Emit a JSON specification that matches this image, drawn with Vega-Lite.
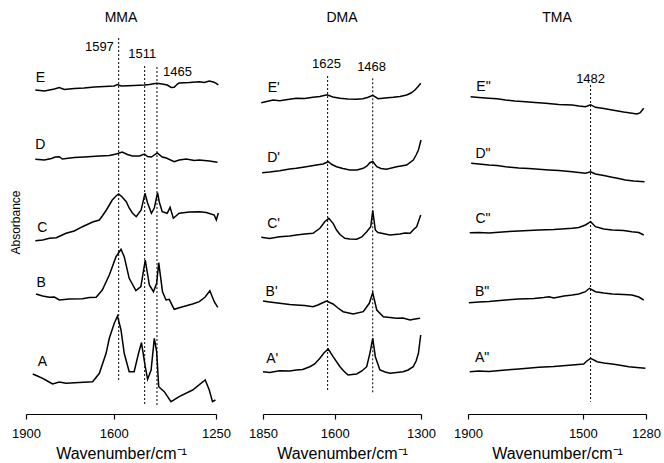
{
"$schema":"https://vega.github.io/schema/vega-lite/v6.json",
"background":"white",
"padding":{"left":9,"top":11,"right":0,"bottom":0},
"bounds":"flush",
"spacing":47,
"config":{"font":"Liberation Sans","view":{"stroke":null},
"axis":{"grid":false,"domainColor":"black","tickColor":"black","labelColor":"black","titleColor":"black","labelFontSize":13,"titleFontSize":16,"titleFontWeight":"normal","labelFlush":false,"tickSize":5,"domainWidth":1.2,"tickWidth":1.2,"labelPadding":3,"titlePadding":4},
"title":{"fontSize":14,"fontWeight":"normal","color":"black"}},
"datasets":{
"mma":[
{"s":"E","w":1868,"a":3.24},{"s":"E","w":1837,"a":3.23},{"s":"E","w":1803,"a":3.25},{"s":"E","w":1786,"a":3.265},{"s":"E","w":1769,"a":3.245},{"s":"E","w":1735,"a":3.255},{"s":"E","w":1701,"a":3.26},{"s":"E","w":1666,"a":3.27},{"s":"E","w":1632,"a":3.275},{"s":"E","w":1598,"a":3.28},{"s":"E","w":1588,"a":3.295},{"s":"E","w":1574,"a":3.28},{"s":"E","w":1530,"a":3.285},{"s":"E","w":1495,"a":3.29},{"s":"E","w":1478,"a":3.295},{"s":"E","w":1453,"a":3.307},{"s":"E","w":1434,"a":3.3},{"s":"E","w":1417,"a":3.29},{"s":"E","w":1403,"a":3.265},{"s":"E","w":1393,"a":3.267},{"s":"E","w":1382,"a":3.3},{"s":"E","w":1376,"a":3.31},{"s":"E","w":1341,"a":3.315},{"s":"E","w":1307,"a":3.323},{"s":"E","w":1290,"a":3.315},{"s":"E","w":1273,"a":3.33},{"s":"E","w":1259,"a":3.32},{"s":"E","w":1249,"a":3.307},{"s":"E","w":1242,"a":3.29},
{"s":"D","w":1868,"a":2.547},{"s":"D","w":1837,"a":2.54},{"s":"D","w":1813,"a":2.555},{"s":"D","w":1800,"a":2.57},{"s":"D","w":1786,"a":2.573},{"s":"D","w":1776,"a":2.55},{"s":"D","w":1735,"a":2.565},{"s":"D","w":1701,"a":2.57},{"s":"D","w":1649,"a":2.58},{"s":"D","w":1615,"a":2.585},{"s":"D","w":1591,"a":2.6},{"s":"D","w":1571,"a":2.62},{"s":"D","w":1553,"a":2.595},{"s":"D","w":1536,"a":2.58},{"s":"D","w":1512,"a":2.58},{"s":"D","w":1495,"a":2.6},{"s":"D","w":1484,"a":2.575},{"s":"D","w":1471,"a":2.57},{"s":"D","w":1451,"a":2.61},{"s":"D","w":1434,"a":2.57},{"s":"D","w":1420,"a":2.56},{"s":"D","w":1393,"a":2.523},{"s":"D","w":1376,"a":2.54},{"s":"D","w":1352,"a":2.55},{"s":"D","w":1324,"a":2.535},{"s":"D","w":1307,"a":2.54},{"s":"D","w":1273,"a":2.53},{"s":"D","w":1245,"a":2.517},
{"s":"C","w":1868,"a":1.733},{"s":"C","w":1843,"a":1.74},{"s":"C","w":1820,"a":1.757},{"s":"C","w":1796,"a":1.763},{"s":"C","w":1763,"a":1.807},{"s":"C","w":1735,"a":1.83},{"s":"C","w":1707,"a":1.873},{"s":"C","w":1672,"a":1.92},{"s":"C","w":1649,"a":1.94},{"s":"C","w":1639,"a":1.98},{"s":"C","w":1625,"a":2.04},{"s":"C","w":1605,"a":2.14},{"s":"C","w":1592,"a":2.18},{"s":"C","w":1583,"a":2.2},{"s":"C","w":1571,"a":2.17},{"s":"C","w":1557,"a":2.123},{"s":"C","w":1547,"a":2.06},{"s":"C","w":1536,"a":2.01},{"s":"C","w":1523,"a":1.973},{"s":"C","w":1506,"a":2.04},{"s":"C","w":1493,"a":2.207},{"s":"C","w":1484,"a":2.11},{"s":"C","w":1471,"a":2.007},{"s":"C","w":1461,"a":2.06},{"s":"C","w":1450,"a":2.213},{"s":"C","w":1444,"a":2.12},{"s":"C","w":1434,"a":2.023},{"s":"C","w":1417,"a":2.007},{"s":"C","w":1407,"a":2.067},{"s":"C","w":1396,"a":1.957},{"s":"C","w":1376,"a":2.007},{"s":"C","w":1341,"a":2.02},{"s":"C","w":1307,"a":2.023},{"s":"C","w":1283,"a":2.015},{"s":"C","w":1256,"a":1.99},{"s":"C","w":1249,"a":1.94},{"s":"C","w":1242,"a":2.01},
{"s":"B","w":1866,"a":1.2},{"s":"B","w":1843,"a":1.18},{"s":"B","w":1820,"a":1.167},{"s":"B","w":1803,"a":1.17},{"s":"B","w":1786,"a":1.14},{"s":"B","w":1752,"a":1.15},{"s":"B","w":1707,"a":1.153},{"s":"B","w":1683,"a":1.165},{"s":"B","w":1660,"a":1.167},{"s":"B","w":1639,"a":1.24},{"s":"B","w":1615,"a":1.39},{"s":"B","w":1592,"a":1.573},{"s":"B","w":1575,"a":1.647},{"s":"B","w":1564,"a":1.573},{"s":"B","w":1547,"a":1.357},{"s":"B","w":1524,"a":1.233},{"s":"B","w":1507,"a":1.273},{"s":"B","w":1492,"a":1.54},{"s":"B","w":1478,"a":1.29},{"s":"B","w":1464,"a":1.223},{"s":"B","w":1453,"a":1.307},{"s":"B","w":1446,"a":1.513},{"s":"B","w":1433,"a":1.223},{"s":"B","w":1421,"a":1.14},{"s":"B","w":1410,"a":1.147},{"s":"B","w":1393,"a":1.047},{"s":"B","w":1364,"a":1.073},{"s":"B","w":1330,"a":1.1},{"s":"B","w":1307,"a":1.123},{"s":"B","w":1287,"a":1.17},{"s":"B","w":1271,"a":1.233},{"s":"B","w":1256,"a":1.123},{"s":"B","w":1244,"a":1.067},
{"s":"A","w":1877,"a":0.4},{"s":"A","w":1861,"a":0.38},{"s":"A","w":1843,"a":0.357},{"s":"A","w":1827,"a":0.33},{"s":"A","w":1809,"a":0.3},{"s":"A","w":1786,"a":0.32},{"s":"A","w":1763,"a":0.307},{"s":"A","w":1718,"a":0.315},{"s":"A","w":1672,"a":0.323},{"s":"A","w":1649,"a":0.407},{"s":"A","w":1626,"a":0.607},{"s":"A","w":1615,"a":0.757},{"s":"A","w":1598,"a":0.907},{"s":"A","w":1587,"a":0.98},{"s":"A","w":1575,"a":0.84},{"s":"A","w":1564,"a":0.607},{"s":"A","w":1547,"a":0.423},{"s":"A","w":1530,"a":0.423},{"s":"A","w":1515,"a":0.607},{"s":"A","w":1505,"a":0.713},{"s":"A","w":1492,"a":0.473},{"s":"A","w":1484,"a":0.347},{"s":"A","w":1472,"a":0.44},{"s":"A","w":1461,"a":0.757},{"s":"A","w":1453,"a":0.623},{"s":"A","w":1446,"a":0.273},{"s":"A","w":1427,"a":0.223},{"s":"A","w":1404,"a":0.123},{"s":"A","w":1376,"a":0.173},{"s":"A","w":1330,"a":0.24},{"s":"A","w":1287,"a":0.34},{"s":"A","w":1273,"a":0.24},{"s":"A","w":1262,"a":0.123},{"s":"A","w":1252,"a":0.14}
],
"mmaLab":[{"s":"E","w":1851,"a":3.365},{"s":"D","w":1851,"a":2.69},{"s":"C","w":1844,"a":1.86},{"s":"B","w":1848,"a":1.31},{"s":"A","w":1844,"a":0.52}],
"mmaPk":[{"w":1583,"a1":3.76,"a2":0.323,"label":"1597","lw":1649,"la":3.673},{"w":1494,"a1":3.48,"a2":0.09,"label":"1511","lw":1502,"la":3.6},{"w":1452,"a1":3.47,"a2":0.09,"label":"1465","lw":1382,"la":3.423}],
"dma":[
{"s":"E'","w":1856,"a":3.113},{"s":"E'","w":1815,"a":3.14},{"s":"E'","w":1792,"a":3.133},{"s":"E'","w":1764,"a":3.145},{"s":"E'","w":1734,"a":3.157},{"s":"E'","w":1705,"a":3.155},{"s":"E'","w":1676,"a":3.167},{"s":"E'","w":1652,"a":3.175},{"s":"E'","w":1627,"a":3.193},{"s":"E'","w":1607,"a":3.17},{"s":"E'","w":1582,"a":3.157},{"s":"E'","w":1555,"a":3.15},{"s":"E'","w":1524,"a":3.147},{"s":"E'","w":1502,"a":3.153},{"s":"E'","w":1484,"a":3.167},{"s":"E'","w":1468,"a":3.187},{"s":"E'","w":1449,"a":3.153},{"s":"E'","w":1425,"a":3.16},{"s":"E'","w":1397,"a":3.167},{"s":"E'","w":1373,"a":3.175},{"s":"E'","w":1350,"a":3.19},{"s":"E'","w":1335,"a":3.21},{"s":"E'","w":1321,"a":3.24},{"s":"E'","w":1310,"a":3.275},{"s":"E'","w":1301,"a":3.307},
{"s":"D'","w":1853,"a":2.413},{"s":"D'","w":1827,"a":2.42},{"s":"D'","w":1792,"a":2.433},{"s":"D'","w":1757,"a":2.45},{"s":"D'","w":1734,"a":2.457},{"s":"D'","w":1705,"a":2.47},{"s":"D'","w":1664,"a":2.49},{"s":"D'","w":1641,"a":2.5},{"s":"D'","w":1623,"a":2.523},{"s":"D'","w":1610,"a":2.495},{"s":"D'","w":1594,"a":2.473},{"s":"D'","w":1572,"a":2.455},{"s":"D'","w":1548,"a":2.44},{"s":"D'","w":1523,"a":2.44},{"s":"D'","w":1501,"a":2.457},{"s":"D'","w":1488,"a":2.48},{"s":"D'","w":1478,"a":2.513},{"s":"D'","w":1468,"a":2.525},{"s":"D'","w":1454,"a":2.473},{"s":"D'","w":1439,"a":2.455},{"s":"D'","w":1420,"a":2.447},{"s":"D'","w":1385,"a":2.473},{"s":"D'","w":1350,"a":2.49},{"s":"D'","w":1327,"a":2.54},{"s":"D'","w":1317,"a":2.59},{"s":"D'","w":1309,"a":2.64},{"s":"D'","w":1300,"a":2.74},
{"s":"C'","w":1856,"a":1.767},{"s":"C'","w":1827,"a":1.755},{"s":"C'","w":1792,"a":1.773},{"s":"C'","w":1757,"a":1.78},{"s":"C'","w":1734,"a":1.79},{"s":"C'","w":1705,"a":1.8},{"s":"C'","w":1676,"a":1.807},{"s":"C'","w":1652,"a":1.857},{"s":"C'","w":1635,"a":1.923},{"s":"C'","w":1621,"a":1.957},{"s":"C'","w":1606,"a":1.907},{"s":"C'","w":1594,"a":1.84},{"s":"C'","w":1582,"a":1.795},{"s":"C'","w":1565,"a":1.757},{"s":"C'","w":1548,"a":1.75},{"s":"C'","w":1524,"a":1.747},{"s":"C'","w":1506,"a":1.77},{"s":"C'","w":1489,"a":1.823},{"s":"C'","w":1475,"a":1.873},{"s":"C'","w":1468,"a":2.033},{"s":"C'","w":1459,"a":1.84},{"s":"C'","w":1450,"a":1.815},{"s":"C'","w":1437,"a":1.807},{"s":"C'","w":1408,"a":1.79},{"s":"C'","w":1373,"a":1.8},{"s":"C'","w":1356,"a":1.81},{"s":"C'","w":1338,"a":1.807},{"s":"C'","w":1324,"a":1.85},{"s":"C'","w":1315,"a":1.873},{"s":"C'","w":1307,"a":1.94},{"s":"C'","w":1301,"a":1.99},
{"s":"B'","w":1850,"a":1.13},{"s":"B'","w":1827,"a":1.12},{"s":"B'","w":1792,"a":1.107},{"s":"B'","w":1757,"a":1.095},{"s":"B'","w":1734,"a":1.09},{"s":"B'","w":1705,"a":1.085},{"s":"B'","w":1676,"a":1.073},{"s":"B'","w":1659,"a":1.09},{"s":"B'","w":1646,"a":1.107},{"s":"B'","w":1629,"a":1.13},{"s":"B'","w":1606,"a":1.1},{"s":"B'","w":1589,"a":1.06},{"s":"B'","w":1571,"a":1.023},{"s":"B'","w":1536,"a":1},{"s":"B'","w":1501,"a":1.023},{"s":"B'","w":1480,"a":1.107},{"s":"B'","w":1468,"a":1.213},{"s":"B'","w":1454,"a":1.04},{"s":"B'","w":1431,"a":0.973},{"s":"B'","w":1408,"a":0.965},{"s":"B'","w":1385,"a":0.957},{"s":"B'","w":1363,"a":0.96},{"s":"B'","w":1338,"a":0.94},{"s":"B'","w":1321,"a":0.95},{"s":"B'","w":1303,"a":0.957},
{"s":"A'","w":1850,"a":0.423},{"s":"A'","w":1827,"a":0.415},{"s":"A'","w":1792,"a":0.433},{"s":"A'","w":1757,"a":0.43},{"s":"A'","w":1734,"a":0.44},{"s":"A'","w":1712,"a":0.445},{"s":"A'","w":1687,"a":0.473},{"s":"A'","w":1670,"a":0.5},{"s":"A'","w":1652,"a":0.557},{"s":"A'","w":1638,"a":0.61},{"s":"A'","w":1623,"a":0.65},{"s":"A'","w":1606,"a":0.573},{"s":"A'","w":1582,"a":0.473},{"s":"A'","w":1569,"a":0.43},{"s":"A'","w":1554,"a":0.39},{"s":"A'","w":1524,"a":0.4},{"s":"A'","w":1506,"a":0.43},{"s":"A'","w":1489,"a":0.473},{"s":"A'","w":1478,"a":0.607},{"s":"A'","w":1468,"a":0.757},{"s":"A'","w":1459,"a":0.573},{"s":"A'","w":1443,"a":0.44},{"s":"A'","w":1425,"a":0.42},{"s":"A'","w":1408,"a":0.407},{"s":"A'","w":1385,"a":0.415},{"s":"A'","w":1362,"a":0.423},{"s":"A'","w":1345,"a":0.44},{"s":"A'","w":1327,"a":0.473},{"s":"A'","w":1317,"a":0.53},{"s":"A'","w":1309,"a":0.607},{"s":"A'","w":1301,"a":0.79}
],
"dmaLab":[{"s":"E'","w":1813,"a":3.263},{"s":"D'","w":1813,"a":2.56},{"s":"C'","w":1813,"a":1.9},{"s":"B'","w":1820,"a":1.22},{"s":"A'","w":1818,"a":0.55}],
"dmaPk":[{"w":1625,"a1":3.38,"a2":0.223,"label":"1625","lw":1629,"la":3.5},{"w":1468,"a1":3.357,"a2":0.207,"label":"1468","lw":1472,"la":3.467}],
"tma":[
{"s":"E\"","w":1891,"a":3.173},{"s":"E\"","w":1862,"a":3.165},{"s":"E\"","w":1827,"a":3.157},{"s":"E\"","w":1799,"a":3.152},{"s":"E\"","w":1769,"a":3.14},{"s":"E\"","w":1737,"a":3.13},{"s":"E\"","w":1699,"a":3.123},{"s":"E\"","w":1667,"a":3.115},{"s":"E\"","w":1630,"a":3.107},{"s":"E\"","w":1584,"a":3.095},{"s":"E\"","w":1537,"a":3.09},{"s":"E\"","w":1514,"a":3.08},{"s":"E\"","w":1491,"a":3.073},{"s":"E\"","w":1473,"a":3.093},{"s":"E\"","w":1456,"a":3.067},{"s":"E\"","w":1427,"a":3.055},{"s":"E\"","w":1398,"a":3.04},{"s":"E\"","w":1358,"a":3.02},{"s":"E\"","w":1311,"a":3},{"s":"E\"","w":1300,"a":3.013},{"s":"E\"","w":1288,"a":3.057},
{"s":"D\"","w":1889,"a":2.507},{"s":"D\"","w":1862,"a":2.5},{"s":"D\"","w":1827,"a":2.49},{"s":"D\"","w":1799,"a":2.485},{"s":"D\"","w":1769,"a":2.473},{"s":"D\"","w":1723,"a":2.46},{"s":"D\"","w":1688,"a":2.455},{"s":"D\"","w":1653,"a":2.447},{"s":"D\"","w":1618,"a":2.44},{"s":"D\"","w":1584,"a":2.435},{"s":"D\"","w":1537,"a":2.423},{"s":"D\"","w":1514,"a":2.415},{"s":"D\"","w":1491,"a":2.407},{"s":"D\"","w":1473,"a":2.423},{"s":"D\"","w":1456,"a":2.4},{"s":"D\"","w":1427,"a":2.385},{"s":"D\"","w":1398,"a":2.367},{"s":"D\"","w":1375,"a":2.355},{"s":"D\"","w":1352,"a":2.34},{"s":"D\"","w":1323,"a":2.33},{"s":"D\"","w":1285,"a":2.323},
{"s":"C\"","w":1894,"a":1.813},{"s":"C\"","w":1862,"a":1.815},{"s":"C\"","w":1827,"a":1.81},{"s":"C\"","w":1769,"a":1.823},{"s":"C\"","w":1723,"a":1.83},{"s":"C\"","w":1653,"a":1.84},{"s":"C\"","w":1601,"a":1.845},{"s":"C\"","w":1537,"a":1.857},{"s":"C\"","w":1514,"a":1.865},{"s":"C\"","w":1491,"a":1.89},{"s":"C\"","w":1473,"a":1.923},{"s":"C\"","w":1456,"a":1.873},{"s":"C\"","w":1427,"a":1.85},{"s":"C\"","w":1398,"a":1.84},{"s":"C\"","w":1358,"a":1.835},{"s":"C\"","w":1329,"a":1.823},{"s":"C\"","w":1305,"a":1.815},{"s":"C\"","w":1288,"a":1.79},
{"s":"B\"","w":1897,"a":1.113},{"s":"B\"","w":1862,"a":1.12},{"s":"B\"","w":1827,"a":1.125},{"s":"B\"","w":1769,"a":1.14},{"s":"B\"","w":1723,"a":1.15},{"s":"B\"","w":1670,"a":1.155},{"s":"B\"","w":1636,"a":1.165},{"s":"B\"","w":1618,"a":1.173},{"s":"B\"","w":1601,"a":1.16},{"s":"B\"","w":1566,"a":1.18},{"s":"B\"","w":1537,"a":1.19},{"s":"B\"","w":1514,"a":1.2},{"s":"B\"","w":1491,"a":1.223},{"s":"B\"","w":1477,"a":1.257},{"s":"B\"","w":1456,"a":1.223},{"s":"B\"","w":1427,"a":1.21},{"s":"B\"","w":1398,"a":1.2},{"s":"B\"","w":1358,"a":1.195},{"s":"B\"","w":1329,"a":1.19},{"s":"B\"","w":1305,"a":1.17},{"s":"B\"","w":1288,"a":1.14},
{"s":"A\"","w":1894,"a":0.423},{"s":"A\"","w":1862,"a":0.43},{"s":"A\"","w":1827,"a":0.425},{"s":"A\"","w":1769,"a":0.44},{"s":"A\"","w":1723,"a":0.45},{"s":"A\"","w":1653,"a":0.467},{"s":"A\"","w":1601,"a":0.475},{"s":"A\"","w":1537,"a":0.49},{"s":"A\"","w":1497,"a":0.5},{"s":"A\"","w":1486,"a":0.53},{"s":"A\"","w":1473,"a":0.557},{"s":"A\"","w":1450,"a":0.523},{"s":"A\"","w":1427,"a":0.51},{"s":"A\"","w":1398,"a":0.5},{"s":"A\"","w":1375,"a":0.49},{"s":"A\"","w":1340,"a":0.473},{"s":"A\"","w":1312,"a":0.465},{"s":"A\"","w":1282,"a":0.457}
],
"tmaLab":[{"s":"E\"","w":1846,"a":3.273},{"s":"D\"","w":1848,"a":2.6},{"s":"C\"","w":1848,"a":1.95},{"s":"B\"","w":1851,"a":1.22},{"s":"A\"","w":1851,"a":0.56}],
"tmaPk":[{"w":1473,"a1":3.29,"a2":0.123,"label":"1482","lw":1473,"la":3.35}]
},
"hconcat":[
{"width":190,"height":384,"title":{"text":"MMA","offset":5},
"layer":[
{"data":{"name":"mma"},"mark":{"type":"line","color":"black","strokeWidth":1.5},"encoding":{"x":{"field":"w","type":"quantitative","scale":{"domain":[1900,1250],"nice":false,"zero":false},"axis":{"values":[1900,1600,1250],"format":"d","title":"Wavenumber/cm⁻¹","labelPadding":8,"titlePadding":5}},"y":{"field":"a","type":"quantitative","scale":{"domain":[0,3.84],"nice":false},"axis":{"title":"Absorbance","labels":false,"ticks":false,"domain":false,"titleFontSize":12,"titlePadding":4}},"detail":{"field":"s"}}},
{"data":{"name":"mmaPk"},"mark":{"type":"rule","color":"black","strokeDash":[2,2],"strokeWidth":1},"encoding":{"x":{"field":"w","type":"quantitative"},"y":{"field":"a1","type":"quantitative"},"y2":{"field":"a2"}}},
{"data":{"name":"mmaPk"},"mark":{"type":"text","fontSize":13,"color":"black"},"encoding":{"x":{"field":"lw","type":"quantitative"},"y":{"field":"la","type":"quantitative"},"text":{"field":"label"}}},
{"data":{"name":"mmaLab"},"mark":{"type":"text","fontSize":14,"color":"black"},"encoding":{"x":{"field":"w","type":"quantitative"},"y":{"field":"a","type":"quantitative"},"text":{"field":"s"}}}
]},
{"width":158,"height":384,"title":{"text":"DMA","offset":5},
"layer":[
{"data":{"name":"dma"},"mark":{"type":"line","color":"black","strokeWidth":1.5},"encoding":{"x":{"field":"w","type":"quantitative","scale":{"domain":[1850,1300],"nice":false,"zero":false},"axis":{"values":[1850,1600,1300],"format":"d","title":"Wavenumber/cm⁻¹","labelPadding":8,"titlePadding":5}},"y":{"field":"a","type":"quantitative","scale":{"domain":[0,3.84],"nice":false},"axis":null},"detail":{"field":"s"}}},
{"data":{"name":"dmaPk"},"mark":{"type":"rule","color":"black","strokeDash":[2,2],"strokeWidth":1},"encoding":{"x":{"field":"w","type":"quantitative"},"y":{"field":"a1","type":"quantitative"},"y2":{"field":"a2"}}},
{"data":{"name":"dmaPk"},"mark":{"type":"text","fontSize":13,"color":"black"},"encoding":{"x":{"field":"lw","type":"quantitative"},"y":{"field":"la","type":"quantitative"},"text":{"field":"label"}}},
{"data":{"name":"dmaLab"},"mark":{"type":"text","fontSize":14,"color":"black"},"encoding":{"x":{"field":"w","type":"quantitative"},"y":{"field":"a","type":"quantitative"},"text":{"field":"s"}}}
]},
{"width":178,"height":384,"title":{"text":"TMA","offset":5},
"layer":[
{"data":{"name":"tma"},"mark":{"type":"line","color":"black","strokeWidth":1.5},"encoding":{"x":{"field":"w","type":"quantitative","scale":{"domain":[1900,1280],"nice":false,"zero":false},"axis":{"values":[1900,1500,1280],"format":"d","title":"Wavenumber/cm⁻¹","labelPadding":8,"titlePadding":5}},"y":{"field":"a","type":"quantitative","scale":{"domain":[0,3.84],"nice":false},"axis":null},"detail":{"field":"s"}}},
{"data":{"name":"tmaPk"},"mark":{"type":"rule","color":"black","strokeDash":[2,2],"strokeWidth":1},"encoding":{"x":{"field":"w","type":"quantitative"},"y":{"field":"a1","type":"quantitative"},"y2":{"field":"a2"}}},
{"data":{"name":"tmaPk"},"mark":{"type":"text","fontSize":13,"color":"black"},"encoding":{"x":{"field":"lw","type":"quantitative"},"y":{"field":"la","type":"quantitative"},"text":{"field":"label"}}},
{"data":{"name":"tmaLab"},"mark":{"type":"text","fontSize":14,"color":"black"},"encoding":{"x":{"field":"w","type":"quantitative"},"y":{"field":"a","type":"quantitative"},"text":{"field":"s"}}}
]}
]
}
